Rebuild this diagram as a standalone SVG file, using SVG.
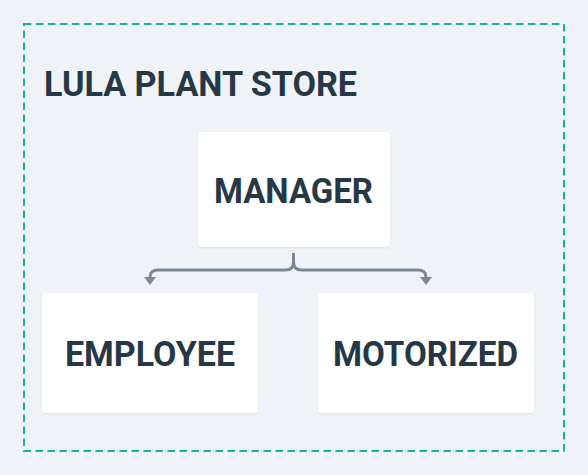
<svg xmlns="http://www.w3.org/2000/svg" width="588" height="475" viewBox="0 0 588 475">
  <style>
    .lbl { font-family: Roboto, "Liberation Sans", Arial, sans-serif; font-weight: 700; fill: #263746; font-size: 35px; }
    .box { fill: #ffffff; filter: url(#sh); }
    .conn { fill: none; stroke: #7a8896; stroke-width: 3; }
  </style>
  <defs>
    <filter id="sh" x="-10%" y="-10%" width="120%" height="130%">
      <feDropShadow dx="0" dy="1" stdDeviation="1.2" flood-color="#8a9bb0" flood-opacity="0.25"/>
    </filter>
    <marker id="arr" markerUnits="userSpaceOnUse" markerWidth="8" markerHeight="12" viewBox="0 0 8 12" refX="0" refY="6" orient="auto">
      <path d="M0,0 L8,6 L0,12 z" fill="#7a8896"/>
    </marker>
  </defs>
  <rect x="0" y="0" width="588" height="475" fill="#eff3f7"/>
  <g id="store">
    <rect x="24" y="24" width="540" height="427" fill="none" stroke="#17b29c" stroke-width="2" stroke-dasharray="7.5 4.5"/>
    <text class="lbl" x="44" y="95.5" textLength="313" lengthAdjust="spacingAndGlyphs">LULA PLANT STORE</text>
  </g>
  <g id="connectors">
    <path class="conn" d="M293.5,253 V262 Q293.5,270 285.5,270 H158 Q150,270 150,277" marker-end="url(#arr)"/>
    <path class="conn" d="M293.5,262 Q293.5,270 301.5,270 H418 Q426,270 426,277" marker-end="url(#arr)"/>
  </g>
  <g id="manager">
    <rect class="box" x="198" y="132" width="192" height="115" rx="3"/>
    <text class="lbl" x="293.5" y="202.5" text-anchor="middle" textLength="159" lengthAdjust="spacingAndGlyphs">MANAGER</text>
  </g>
  <g id="employee">
    <rect class="box" x="42" y="293" width="216" height="120" rx="3"/>
    <text class="lbl" x="150" y="365.5" text-anchor="middle" textLength="170" lengthAdjust="spacingAndGlyphs">EMPLOYEE</text>
  </g>
  <g id="motorized">
    <rect class="box" x="318" y="293" width="216" height="120" rx="3"/>
    <text class="lbl" x="425.5" y="365.5" text-anchor="middle" textLength="185" lengthAdjust="spacingAndGlyphs">MOTORIZED</text>
  </g>
</svg>
